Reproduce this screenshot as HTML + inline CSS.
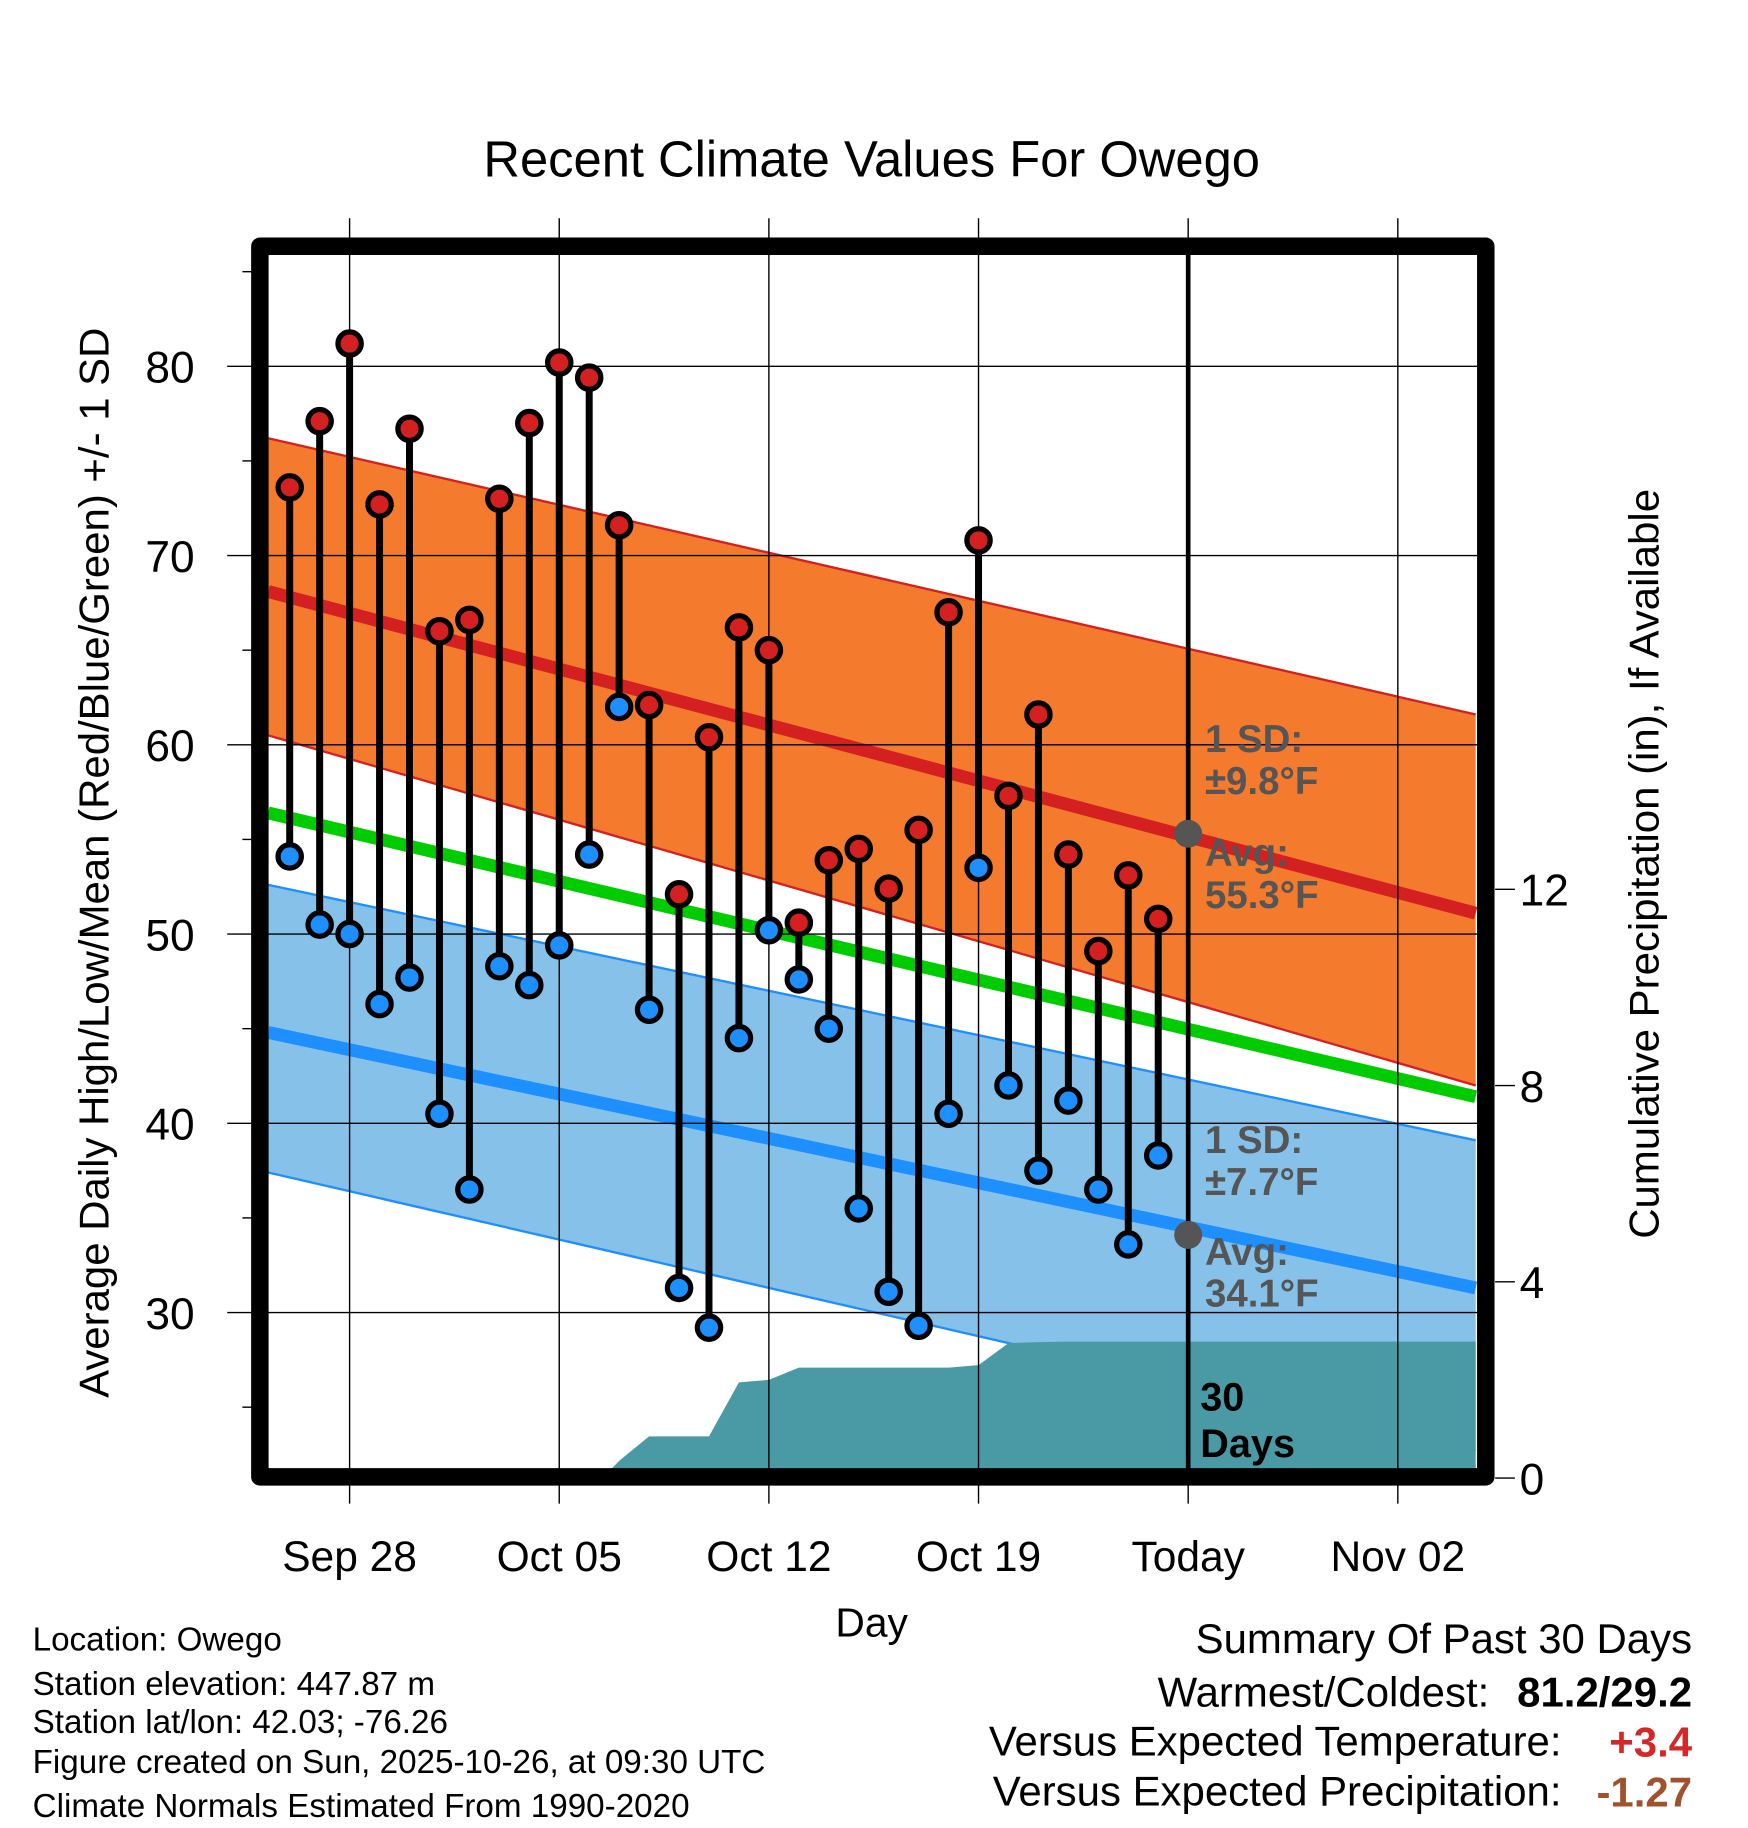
<!DOCTYPE html>
<html><head><meta charset="utf-8"><style>
html,body{margin:0;padding:0;background:#fff;}
svg{display:block;font-family:"Liberation Sans",sans-serif;}
</style></head><body>
<svg id="chart" width="1748" height="1828" viewBox="0 0 1500 1568" xmlns="http://www.w3.org/2000/svg">
<rect width="1500" height="1568" fill="#fff"/>
<text x="748" y="151" font-size="43.5" text-anchor="middle">Recent Climate Values For Owego</text>
<g id="plot"></g>
<text transform="translate(93,740) rotate(-90)" font-size="36" text-anchor="middle">Average Daily High/Low/Mean (Red/Blue/Green) +/- 1 SD</text>
<text transform="translate(1423,741) rotate(-90)" font-size="36" text-anchor="middle">Cumulative Precipitation (in), If Available</text>
<text x="748" y="1404" font-size="35" text-anchor="middle">Day</text>
<g font-size="28.5">
<text x="28" y="1416">Location: Owego</text>
<text x="28" y="1454">Station elevation: 447.87 m</text>
<text x="28" y="1487">Station lat/lon: 42.03; -76.26</text>
<text x="28" y="1521">Figure created on Sun, 2025-10-26, at 09:30 UTC</text>
<text x="28" y="1559">Climate Normals Estimated From 1990-2020</text>
</g>
<g font-size="36">
<text x="1452" y="1418" text-anchor="end">Summary Of Past 30 Days</text>
<text x="1278" y="1464" text-anchor="end">Warmest/Coldest:</text>
<text x="1452" y="1464" text-anchor="end" font-weight="bold">81.2/29.2</text>
<text x="1340" y="1506" text-anchor="end">Versus Expected Temperature:</text>
<text x="1452" y="1507" text-anchor="end" font-weight="bold" fill="#d62728">+3.4</text>
<text x="1340" y="1549" text-anchor="end">Versus Expected Precipitation:</text>
<text x="1452" y="1550" text-anchor="end" font-weight="bold" fill="#a0522d">-1.27</text>
</g>
</svg>
<script>
const days=[-2,-1,0,1,2,3,4,5,6,7,8,9,10,11,12,13,14,15,16,17,18,19,20,21,22,23,24,25,26,27];
const highs=[73.6,77.1,81.2,72.7,76.7,66.0,66.6,73.0,77.0,80.2,79.4,71.6,62.1,52.1,60.4,66.2,65.0,50.6,53.9,54.5,52.4,55.5,67.0,70.8,57.3,61.6,54.2,49.1,53.1,50.8];
const lows=[54.1,50.5,50.0,46.3,47.7,40.5,36.5,48.3,47.3,49.4,54.2,62.0,46.0,31.3,29.2,44.5,50.2,47.6,45.0,35.5,31.1,29.3,40.5,53.5,42.0,37.5,41.2,36.5,33.6,38.3];
const normDays=[-2.72,37.6];
const normHigh=[68.1,51.1];
const highUpper=[76.2,61.6];
const highLower=[60.5,42.0];
const normLow=[44.8,31.3];
const lowUpper=[52.6,39.1];
const lowLower=[37.4,22.7];
const normMean=[56.4,41.4];
const precipDays=[8.45,9,10,11,12,13,14,15,16,17,18,19,20,21,22,23,24,25,26,27,37.6];
const precipVals=[0,0.35,0.85,0.85,0.85,1.95,2.0,2.25,2.25,2.25,2.25,2.25,2.25,2.3,2.75,2.77,2.78,2.78,2.78,2.78,2.78];
const xTickDays=[0,7,14,21,28,35];
const xTickLabels=["Sep 28","Oct 05","Oct 12","Oct 19","Today","Nov 02"];
const yTicks=[30,40,50,60,70,80];
const y2Ticks=[0,4,8,12];
const todayDay=28, todayHigh=55.3, todayLow=34.1;

const L=230,R=1268,T=218,B=1260;
const X=d=>300+d*25.7;
const Y=v=>314+(80-v)*16.24;
const Y2=p=>1268-p*42.1;
const NS="http://www.w3.org/2000/svg";
const g=document.getElementById('plot');
function el(tag,attrs,parent){const e=document.createElementNS(NS,tag);for(const k in attrs)e.setAttribute(k,attrs[k]);(parent||g).appendChild(e);return e;}
const defs=el('defs',{});const cp=el('clipPath',{id:'pc'},defs);el('rect',{x:L,y:T,width:R-L,height:B-T},cp);
const inner=el('g',{'clip-path':'url(#pc)'});
function band(up,lo,fill,stroke){
  const x0=X(normDays[0]),x1=X(normDays[1]);
  const p=el('polygon',{points:`${x0},${Y(up[0])} ${x1},${Y(up[1])} ${x1},${Y(lo[1])} ${x0},${Y(lo[0])}`,fill:fill},inner);
  
  [up,lo].forEach(a=>{el('line',{x1:x0,y1:Y(a[0]),x2:x1,y2:Y(a[1]),stroke:stroke,'stroke-width':2},inner);});
}
band(highUpper,highLower,'#f47a2e','#d42020');
band(lowUpper,lowLower,'#85c1e8','#1e8fff');
function nline(c,col,name){const l=el('line',{x1:X(normDays[0]),y1:Y(c[0]),x2:X(normDays[1]),y2:Y(c[1]),stroke:col,'stroke-width':11},inner);
}
nline(normMean,'#00cc00','normal-mean-line');
nline(normHigh,'#d42020','normal-high-line');
nline(normLow,'#1e8fff','normal-low-line');
// grid
xTickDays.forEach(d=>el('line',{x1:X(d),y1:187,x2:X(d),y2:1290,stroke:'#000','stroke-width':1.2}));
yTicks.forEach(v=>el('line',{x1:195,y1:Y(v),x2:R,y2:Y(v),stroke:'#000','stroke-width':1.2}));
for(let v=25;v<=85;v+=5){if(v%10)el('line',{x1:208,y1:Y(v),x2:216,y2:Y(v),stroke:'#000','stroke-width':1.2});}
y2Ticks.forEach(p=>el('line',{x1:1283,y1:Y2(p),x2:1300,y2:Y2(p),stroke:'#000','stroke-width':1.2}));
// precip
let pts=`${X(precipDays[0])},${B+5} `+precipDays.map((d,i)=>`${X(d)},${Y2(precipVals[i])}`).join(' ')+` ${X(precipDays[precipDays.length-1])},${B+5}`;
const pa=el('polygon',{points:pts,fill:'#4a9aa5'},inner);

// today line
const tl=el('line',{x1:X(todayDay),y1:T,x2:X(todayDay),y2:B,stroke:'#000','stroke-width':4});

// stems and points
days.forEach((d,i)=>{
  const s=el('line',{x1:X(d),y1:Y(highs[i]),x2:X(d),y2:Y(lows[i]),stroke:'#000','stroke-width':6});
  
  const h=el('circle',{cx:X(d),cy:Y(highs[i]),r:10,fill:'#d42020',stroke:'#000','stroke-width':4.5});
  
  const lo=el('circle',{cx:X(d),cy:Y(lows[i]),r:10,fill:'#1e8fff',stroke:'#000','stroke-width':4.5});
  
});
[todayHigh,todayLow].forEach(v=>{const c=el('circle',{cx:X(todayDay),cy:Y(v),r:12,fill:'#555'});
});
// annotations
function txt(x,y,s,attrs,name){const t=el('text',Object.assign({x:x,y:y},attrs));t.textContent=s;return t;}
const ann={'font-size':33,'font-weight':'bold',fill:'#555'};
txt(1034,645,'1 SD:',ann,'high-sd-label');txt(1034,681,'±9.8°F',ann,'high-sd-value');
txt(1034,743,'Avg:',ann,'high-avg-label');txt(1034,779,todayHigh.toFixed(1)+'°F',ann,'high-avg-value');
txt(1034,989,'1 SD:',ann,'low-sd-label');txt(1034,1025,'±7.7°F',ann,'low-sd-value');
txt(1034,1085,'Avg:',ann,'low-avg-label');txt(1034,1121,todayLow.toFixed(1)+'°F',ann,'low-avg-value');
const dk={'font-size':34,'font-weight':'bold',fill:'#000'};
txt(1030,1210,'30',dk,'days-label');txt(1030,1250,'Days',dk,'days-label-2');
// frame
const fr=el('rect',{x:223,y:211,width:1052,height:1056,fill:'none',stroke:'#000','stroke-width':15,'stroke-linejoin':'round'});

// tick labels
yTicks.forEach(v=>txt(167,Y(v)+14,String(v),{'font-size':38,'text-anchor':'end'},'y-tick-label'));
y2Ticks.forEach(p=>txt(1304,Y2(p)+14,String(p),{'font-size':38},'y2-tick-label'));
xTickDays.forEach((d,i)=>txt(X(d),1348,xTickLabels[i],{'font-size':36.5,'text-anchor':'middle'},'x-tick-label'));
</script>
</body></html>
